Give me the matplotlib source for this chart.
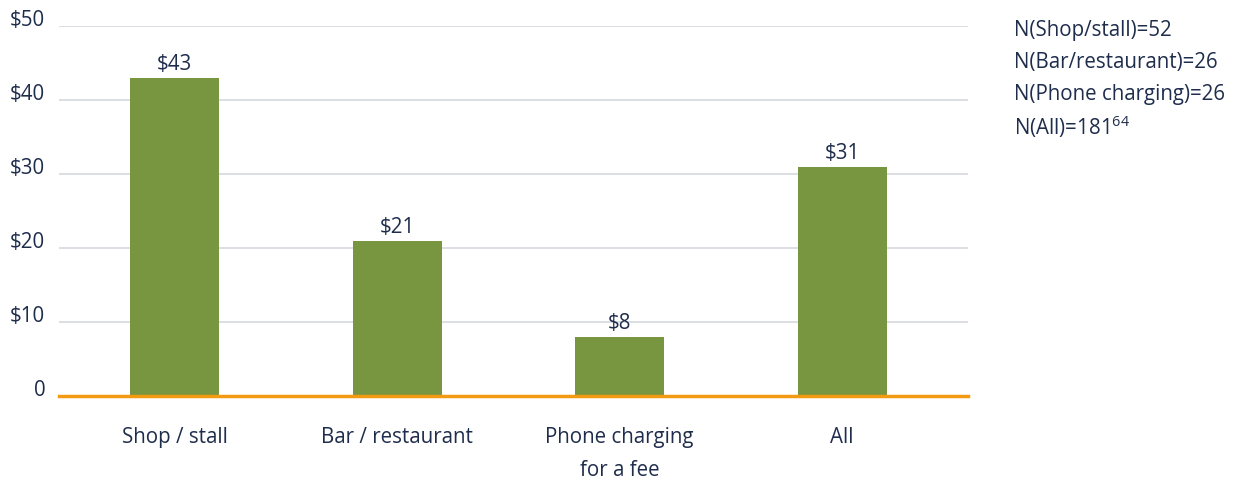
import matplotlib.pyplot as plt

categories = ['Shop / stall', 'Bar / restaurant', 'Phone charging\nfor a fee', 'All']
spend = [43, 21, 8, 31]
yticks = [0, 10, 20, 30, 40, 50]
ytick_labels = ['0', '$10', '$20', '$30', '$40', '$50']
sample_notes = ['N(Shop/stall)=52', 'N(Bar/restaurant)=26',
                'N(Phone charging)=26', r'N(All)=181$^{\mathregular{64}}$']

navy = '#1f2d4d'
green = '#77963f'
orange = '#f39a13'
grid_grey = '#d8dbdf'
fs = 14.8

plt.rcParams['font.family'] = ['Open Sans', 'DejaVu Sans']
plt.rcParams['mathtext.fontset'] = 'custom'
plt.rcParams['mathtext.rm'] = 'Open Sans'

fig = plt.figure(figsize=(12.51, 4.79), dpi=100)
ax = fig.add_axes([0.0472, 0.1733, 0.7266, 0.7724])

x = range(len(categories))
bars = ax.bar(x, spend, width=0.4, color=green, zorder=2)

# value labels above each bar
for b, v in zip(bars, spend):
    ax.annotate(f'${v}', (b.get_x() + b.get_width() / 2, v),
                xytext=(0, 2), textcoords='offset points',
                ha='center', va='bottom', fontsize=fs, color=navy, zorder=4)

ax.set_xlim(-0.52, 3.566)
ax.set_ylim(0, 50)
ax.set_yticks(yticks)
ax.set_yticklabels(ytick_labels)
ax.set_xticks(list(x))
ax.set_xticklabels(categories, linespacing=1.8)

for y in yticks[1:]:
    ax.axhline(y, color=grid_grey, lw=1.3, zorder=1)
ax.axhline(0, color=orange, lw=2.5, zorder=3, clip_on=False)

for s in ax.spines.values():
    s.set_visible(False)
ax.tick_params(axis='both', length=0, labelsize=fs, labelcolor=navy)
ax.tick_params(axis='y', pad=10)
ax.tick_params(axis='x', pad=22)
for lbl in ax.get_yticklabels():
    lbl.set_va('baseline')

# sample sizes to the right of the plot
for i, note in enumerate(sample_notes):
    fig.text(0.8105, 0.937 - i * 0.0675, note, fontsize=fs,
             color=navy, va='center', ha='left')

fig.savefig('out.png', dpi=100)
